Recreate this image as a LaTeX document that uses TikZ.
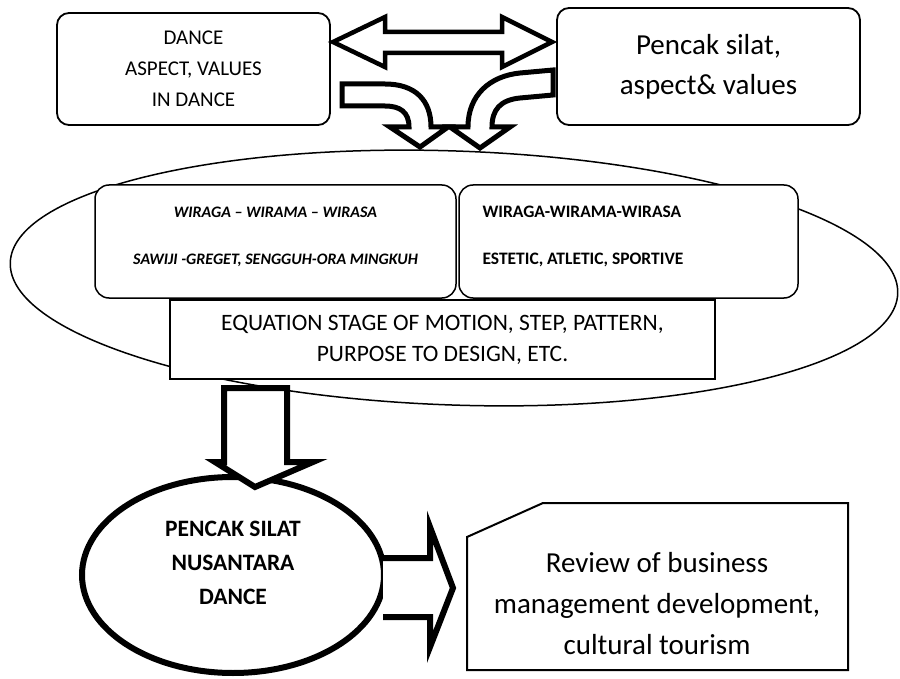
\documentclass[tikz,border=0pt]{standalone}
\usepackage{fontspec}
\setmainfont{Carlito}
\usetikzlibrary{shapes.geometric}
\begin{document}
\begin{tikzpicture}[x=1pt, y=-1pt,
    caja/.style={draw, line width=1.8pt, rounded corners=12pt, align=center, fill=white},
    cajita/.style={draw, line width=1.5pt, rounded corners=14pt, fill=white},
    flecha/.style={draw, line width=5pt, fill=white, line join=miter}]
    \useasboundingbox (0,0) rectangle (900,679);

    % Cajas superiores
    \node[caja, minimum width=273pt, minimum height=112pt, font=\fontsize{21}{31}\selectfont] (danza) at (193.5,69) {DANCE\\ASPECT, VALUES\\IN DANCE};
    \node[caja, minimum width=303pt, minimum height=117pt, font=\fontsize{29}{40}\selectfont] (silat) at (708.5,66.5) {Pencak silat,\\aspect\& values};

    % Flecha doble entre las cajas
    \draw[flecha, line width=4.5pt] (333,42) -- (385,17) -- (385,32) -- (502,32) -- (502,17) -- (552,42)
        -- (502,67) -- (502,53) -- (385,53) -- (385,67) -- cycle;

    % Flechas curvas hacia abajo
    \draw[flecha] (342,84) -- (385,84) .. controls (415,84) and (431,100) .. (431,127) -- (448,127)
        -- (420,147) -- (390,127) -- (409,127) .. controls (409,112) and (400,106) .. (385,106) -- (342,106) -- cycle;
    \draw[flecha] (553,70) -- (553,95) -- (520,98) .. controls (500,100) and (492,110) .. (492,127) -- (510,127)
        -- (480,148) -- (450,127) -- (468,127) .. controls (468,95) and (490,76) .. (520,73) -- cycle;

    % Elipse grande
    \node[draw, ellipse, line width=1.5pt, minimum width=888pt, minimum height=254pt, rotate=-2] (elipse) at (454,278) {};

    % Cajas dentro de la elipse
    \node[cajita, minimum width=361pt, minimum height=113pt] (izq) at (275.5,241.5) {};
    \node[cajita, minimum width=339pt, minimum height=113pt] (der) at (628.5,241.5) {};
    \node[align=center, font=\fontsize{16}{47}\selectfont\bfseries\itshape] (izqtxt) at ([yshift=5pt]izq.center)
        {WIRAGA – WIRAMA – WIRASA\\SAWIJI -GREGET, SENGGUH-ORA MINGKUH};
    \node[align=left, anchor=west, font=\fontsize{17.5}{47}\selectfont\bfseries] (dertxt) at (479,236.5)
        {WIRAGA-WIRAMA-WIRASA\\ESTETIC, ATLETIC, SPORTIVE};
    \node[draw, line width=1.5pt, fill=white, align=center, minimum width=545pt, minimum height=79pt,
        font=\fontsize{23.5}{31}\selectfont] (ecuacion) at (442.5,339.5)
        {EQUATION STAGE OF MOTION, STEP, PATTERN,\\PURPOSE TO DESIGN, ETC.};

    % Elipse inferior
    \node[draw, ellipse, line width=6pt, minimum width=302pt, minimum height=196pt] (pencak) at (233,575) {};
    \node[align=center, font=\fontsize{23.5}{34}\selectfont\bfseries] (pencaktxt) at (233,563)
        {PENCAK SILAT\\NUSANTARA\\DANCE};

    % Flecha hacia abajo
    \draw[flecha, line width=6pt] (224,388) -- (287,388) -- (287,462) -- (313,462) -- (255,487)
        -- (215,462) -- (224,462) -- cycle;

    % Flecha hacia la derecha
    \filldraw[flecha, line width=6pt] (383,558) -- (430,558) -- (430,527) -- (453,588) -- (430,647)
        -- (430,617) -- (383,617);

    % Caja de la revision
    \draw[line width=2pt] (467,537) -- (543,503) -- (848,503) -- (848,670) -- (467,670) -- cycle;
    \node[align=center, font=\fontsize{29}{41}\selectfont] (revision) at (657,604)
        {Review of business\\management development,\\cultural tourism};
\end{tikzpicture}
\end{document}
